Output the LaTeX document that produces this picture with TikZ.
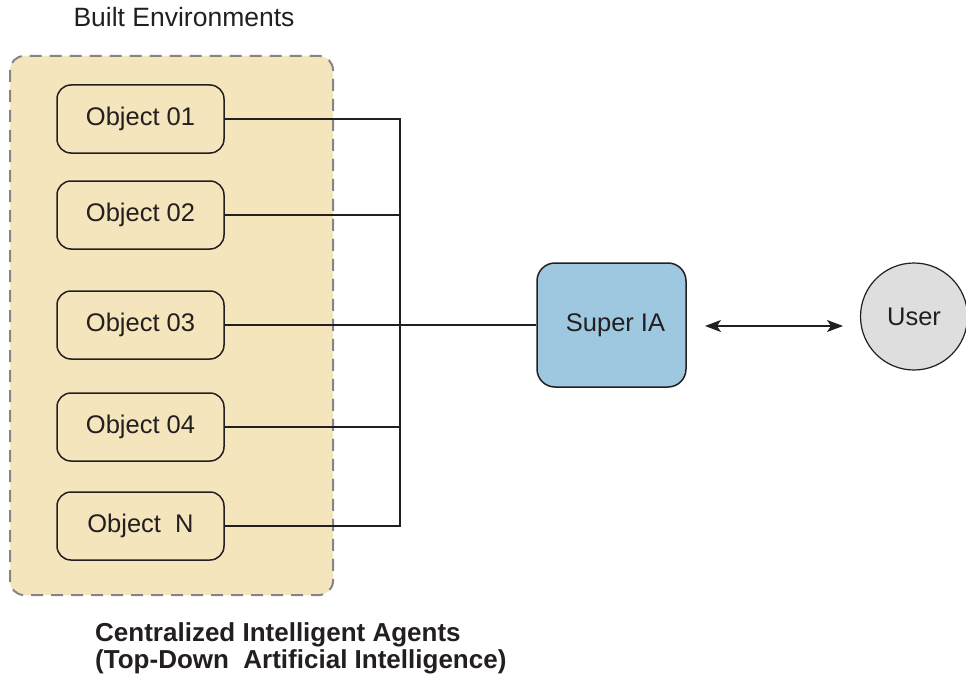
\documentclass[tikz,border=0pt]{standalone}
\usepackage{fontspec}
\setmainfont{Liberation Sans}
\usetikzlibrary{arrows.meta}
\definecolor{envfill}{HTML}{F5E5BC}
\definecolor{envedge}{HTML}{858585}
\definecolor{iafill}{HTML}{9EC8E0}
\definecolor{userfill}{HTML}{DEDEDE}
\definecolor{ink}{HTML}{231F20}
\tikzset{
  txt/.style={font=\fontsize{25.5}{30}\selectfont, text=ink},
  objbox/.style={txt, draw=ink, line width=1.5pt, rounded corners=14pt, minimum width=167pt, minimum height=68pt, inner sep=0pt},
  iabox/.style={txt, draw=ink, line width=1.5pt, rounded corners=18pt, fill=iafill, minimum width=149pt, minimum height=124pt, inner sep=0pt},
  userbox/.style={txt, draw=ink, line width=1.2pt, circle, fill=userfill, minimum size=107pt, inner sep=0pt},
  wire/.style={draw=ink, line width=1.3pt},
  label/.style={txt, inner sep=0pt},
  twoway/.style={draw=ink, line width=1.3pt, >={Stealth[length=16pt,width=12pt,inset=4pt]}, <->}
}
\begin{document}
\begin{tikzpicture}[x=1pt, y=-1pt]
\useasboundingbox (0,0) rectangle (966,674);
\clip (0,0) rectangle (966,674);
% container for the objects
\draw[envedge, fill=envfill, line width=2pt, dash pattern=on 12pt off 8pt, rounded corners=14pt] (10,56) rectangle (333,595);
\node[label, anchor=base, font=\fontsize{26.5}{30}\selectfont] (title) at (184,27) {Built Environments};
% objects
\node[objbox] (o1) at (140.5,119) {Object 01};
\node[objbox] (o2) at (140.5,215) {Object 02};
\node[objbox] (o3) at (140.5,325) {Object 03};
\node[objbox] (o4) at (140.5,427) {Object 04};
\node[objbox] (oN) at (140.5,526) {Object\ \ N};
% central agent and user
\node[iabox] (ia) at (611.5,325) {\hspace*{8pt}Super IA};
\node[userbox] (user) at (914,316.5) {User};
% bus
\coordinate (b1) at (400,119);
\coordinate (bN) at (400,526);
\draw[wire] (o1.east) -- (b1) -- (bN) -- (oN.east);
\draw[wire] (o2.east) -- (o2.east -| b1);
\draw[wire] (o4.east) -- (o4.east -| b1);
\draw[wire] (o3.east) -- (ia.west);
% link to user
\coordinate (a1) at (705,326);
\coordinate (a2) at (843,326);
\draw[twoway] (a1) -- (a2);
% caption
\node[label, anchor=base west, align=left, font=\fontsize{26}{26.5}\selectfont\bfseries] (cap) at (95,668) {Centralized Intelligent Agents\\(Top-Down\ \ Artificial Intelligence)};
\end{tikzpicture}
\end{document}
